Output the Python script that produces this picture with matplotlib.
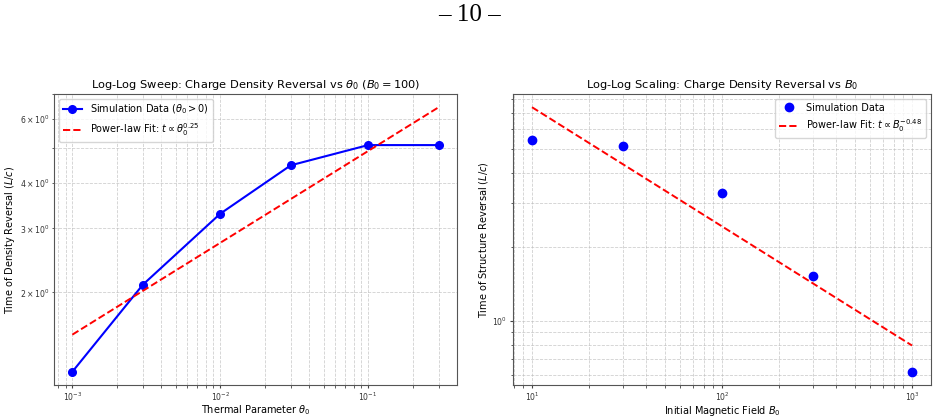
import numpy as np
import matplotlib
matplotlib.use("Agg")
import matplotlib.pyplot as plt

# Left panel: sweep over theta_0 at B_0 = 100
theta0 = [1e-3, 3e-3, 1e-2, 3e-2, 1e-1, 3e-1]
t_density = [1.21, 2.10, 3.29, 4.47, 5.08, 5.08]

# Right panel: sweep over B_0
B0 = [10, 30, 100, 300, 1000]
t_structure = [5.45, 5.15, 3.30, 1.52, 0.62]

page_label = "\u2013 10 \u2013"

fig = plt.figure(figsize=(9.38, 4.2), dpi=100)
fig.text(0.5, 0.965, page_label, ha="center", va="center",
         fontsize=18, family="Liberation Serif")

ax1 = fig.add_axes([54 / 938, 35 / 420, 403 / 938, 291 / 420])
ax2 = fig.add_axes([513 / 938, 35 / 420, 418 / 938, 291 / 420])


def powerlaw_fit(x, y):
    slope, icpt = np.polyfit(np.log10(x), np.log10(y), 1)
    return slope, 10 ** icpt * np.asarray(x, dtype=float) ** slope


# left
k1, fit1 = powerlaw_fit(theta0, t_density)
ax1.plot(theta0, t_density, "o-", color="blue", lw=1.5, ms=5.5,
         label=r"Simulation Data ($\theta_0 > 0$)")
ax1.plot(theta0, fit1, "--", color="red", lw=1.4,
         label=r"Power-law Fit: $t \propto \theta_0^{%.2f}$" % k1)
ax1.set_xscale("log")
ax1.set_yscale("log")
ax1.set_title(r"Log-Log Sweep: Charge Density Reversal vs $\theta_0$ ($B_0 = 100$)",
              fontsize=8.2, pad=4)
ax1.set_xlabel(r"Thermal Parameter $\theta_0$", fontsize=7.0, labelpad=0.5)
ax1.set_ylabel(r"Time of Density Reversal ($L/c$)", fontsize=7.0, labelpad=2)
ax1.legend(loc="upper left", fontsize=7)

# right
k2, fit2 = powerlaw_fit(B0, t_structure)
ax2.plot(B0, t_structure, "o", color="blue", ms=6, label="Simulation Data")
ax2.plot(B0, fit2, "--", color="red", lw=1.4,
         label=r"Power-law Fit: $t \propto B_0^{%.2f}$" % k2)
ax2.set_xscale("log")
ax2.set_yscale("log")
ax2.set_title(r"Log-Log Scaling: Charge Density Reversal vs $B_0$", fontsize=8.2, pad=4)
ax2.set_xlabel(r"Initial Magnetic Field $B_0$", fontsize=7.0, labelpad=0.5)
ax2.set_ylabel(r"Time of Structure Reversal ($L/c$)", fontsize=7.0, labelpad=2)
ax2.legend(loc="upper right", fontsize=7)

for ax in (ax1, ax2):
    ax.grid(True, which="both", ls="--", lw=0.6, color="#bbbbbb", alpha=0.7)
    ax.tick_params(which="major", length=2.5, pad=1.5)
    ax.tick_params(which="minor", length=1.8, pad=1.5)
    ax.tick_params(which="both", labelsize=5.6, color="#444444", labelcolor="#333333")
    for s in ax.spines.values():
        s.set_color("#555555")

fig.savefig("out.png", dpi=100)
